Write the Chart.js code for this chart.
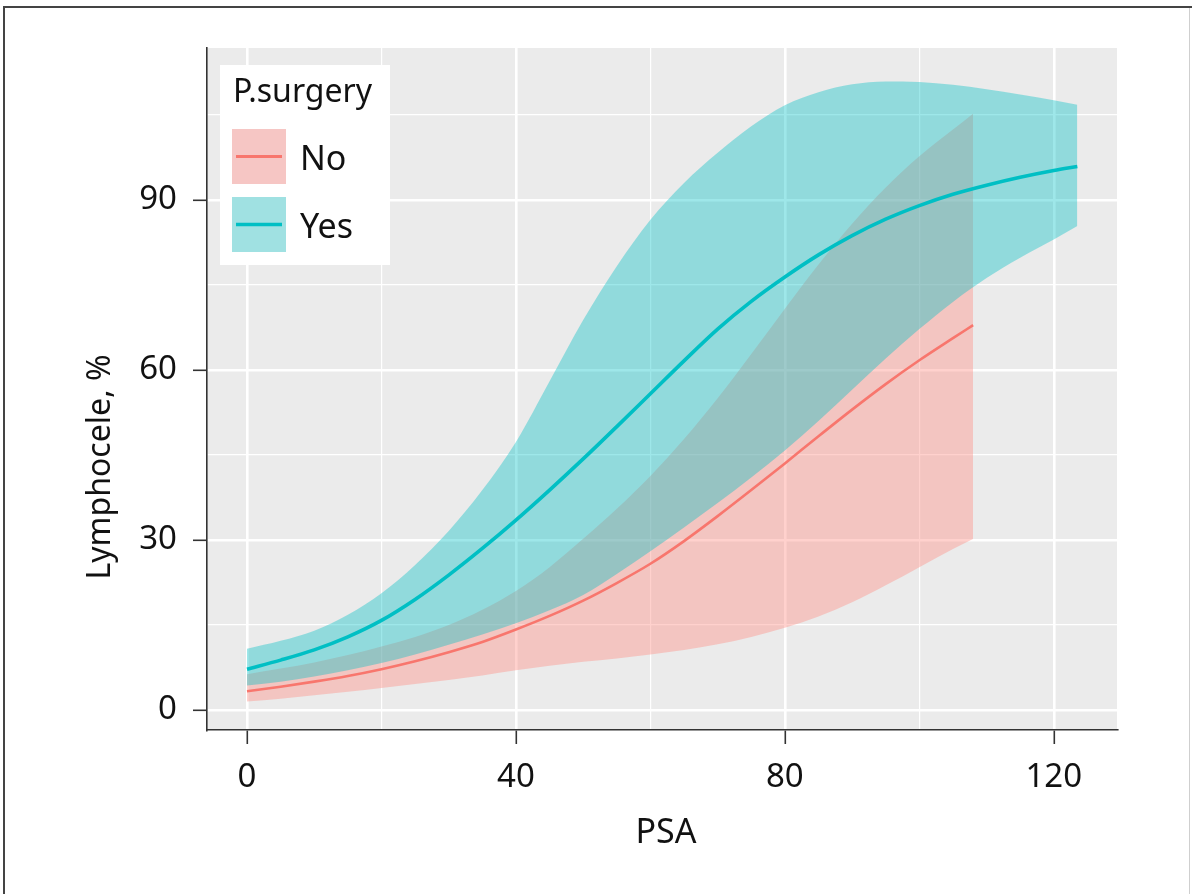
<!DOCTYPE html>
<html>
<head>
<meta charset="utf-8">
<script src="https://cdn.jsdelivr.net/npm/chart.js@4.4.0/dist/chart.umd.min.js"></script>
<style>
html,body{margin:0;padding:0;background:#fff;}
#wrap{position:relative;width:1192px;height:894px;}
</style>
</head>
<body>
<div id="wrap"><canvas id="c" width="1192" height="894"></canvas></div>
<script>
// ---- data ----
const psaNo  = [0,5,10,15,20,25,30,35,40,45,50,55,60,65,70,75,80,85,90,95,100,105,108];
const noFit   = [3.3,4.1,5.0,6.0,7.2,8.6,10.2,12.0,14.2,16.6,19.3,22.4,25.8,29.8,34.2,38.8,43.5,48.3,53.0,57.5,61.7,65.6,67.9];
const noUpper = [6.3,7.3,8.4,9.7,11.2,12.9,15.0,17.7,21.0,25.2,30.2,35.5,41.3,47.8,55.0,62.8,70.8,78.6,85.8,92.2,97.7,102.4,105.2];
const noLower = [1.5,2.0,2.6,3.2,3.9,4.6,5.3,6.1,7.0,7.8,8.5,9.1,9.8,10.6,11.6,12.9,14.5,16.5,19.0,22.0,25.2,28.4,30.2];

const psaYes  = [0,5,10,15,20,25,30,35,40,45,50,55,60,65,70,75,80,85,90,95,100,105,110,115,120,123.5];
const yesFit   = [7.2,8.8,10.6,12.9,15.8,19.5,23.8,28.5,33.5,38.8,44.3,50.0,55.8,61.6,67.2,72.1,76.4,80.3,83.7,86.6,89.0,91.0,92.6,94.0,95.2,95.9];
const yesUpper = [10.8,12.2,14.0,16.8,20.6,25.6,31.6,38.8,47.3,58.0,68.8,78.3,86.5,93.0,98.3,103.0,106.7,109.0,110.4,110.9,110.8,110.3,109.5,108.6,107.6,106.8];
const yesLower = [4.3,5.0,5.9,7.0,8.3,9.8,11.5,13.3,15.3,17.6,20.3,24.0,28.0,32.2,36.5,41.0,45.8,51.0,56.5,62.0,67.2,72.0,76.2,79.8,83.0,85.4];

const xTicksMajor = [0,40,80,120];
const yTicksMajor = [0,30,60,90];
const groups = ['No','Yes'];
const legendTitle = 'P.surgery';
const xTitle = 'PSA';
const yTitle = 'Lymphocele, %';

// ---- helpers ----
const pts = (xs, ys) => xs.map((x,i)=>({x:x, y:ys[i]}));
const RED = '#F8766D', TEAL = '#00BFC4';
const RED_FILL = 'rgba(255,140,130,0.40)', TEAL_FILL = 'rgba(0,191,196,0.38)';
const FONT = "'Noto Sans', 'Open Sans', sans-serif";

const bgPlugin = {
  id:'panelBg',
  beforeDraw(chart){
    const {ctx, chartArea:a} = chart;
    ctx.save();
    ctx.fillStyle = '#EBEBEB';
    ctx.fillRect(a.left, a.top, a.right-a.left, a.bottom-a.top);
    ctx.restore();
  }
};

const decoPlugin = {
  id:'deco',
  afterDraw(chart){
    const {ctx, chartArea:a} = chart;
    ctx.save();
    // axis titles
    ctx.fillStyle = '#111';
    ctx.font = `34px ${FONT}`;
    ctx.textAlign = 'center';
    ctx.textBaseline = 'alphabetic';
    ctx.fillText(xTitle, (a.left+a.right)/2 + 4, 843);
    ctx.save();
    ctx.translate(110, 467);
    ctx.rotate(-Math.PI/2);
    ctx.font = `32px ${FONT}`;
    ctx.fillText(yTitle, 0, 0);
    ctx.restore();

    // legend
    const L = a.left + 13, T = a.top + 17;
    ctx.fillStyle = '#ffffff';
    ctx.fillRect(L, T, 170, 200);
    ctx.fillStyle = '#111';
    ctx.textAlign = 'left';
    ctx.font = `32px ${FONT}`;
    ctx.fillText(legendTitle, L + 13, T + 37);
    const keys = [
      {fill:'#F6C6C4', line:RED, lw:3, y:T+64},
      {fill:'#A0E1E2', line:TEAL, lw:3.5, y:T+132}
    ];
    keys.forEach((k,i)=>{
      ctx.fillStyle = k.fill;
      ctx.fillRect(L+12, k.y, 54, 55);
      ctx.strokeStyle = k.line;
      ctx.lineWidth = k.lw;
      ctx.beginPath();
      ctx.moveTo(L+16, k.y+27.5);
      ctx.lineTo(L+62, k.y+27.5);
      ctx.stroke();
      ctx.fillStyle = '#111';
      ctx.font = `34px ${FONT}`;
      ctx.fillText(groups[i], L+80, k.y+41);
    });

    // outer frame
    ctx.strokeStyle = '#444';
    ctx.lineWidth = 2;
    ctx.beginPath();
    ctx.moveTo(4, 894); ctx.lineTo(4, 7); ctx.lineTo(1192, 7);
    ctx.stroke();
    ctx.strokeStyle = '#cfcfcf';
    ctx.lineWidth = 1;
    ctx.beginPath();
    ctx.moveTo(1189.5, 8); ctx.lineTo(1189.5, 894);
    ctx.stroke();
    ctx.restore();
  }
};

new Chart(document.getElementById('c'), {
  type:'line',
  data:{
    datasets:[
      {label:'noUpper', data:pts(psaNo,noUpper), borderWidth:0, pointRadius:0, fill:'+1', backgroundColor:RED_FILL, borderColor:'rgba(0,0,0,0)', order:10, cubicInterpolationMode:'monotone'},
      {label:'noLower', data:pts(psaNo,noLower), borderWidth:0, pointRadius:0, fill:false, borderColor:'rgba(0,0,0,0)', order:10, cubicInterpolationMode:'monotone'},
      {label:'yesUpper', data:pts(psaYes,yesUpper), borderWidth:0, pointRadius:0, fill:'+1', backgroundColor:TEAL_FILL, borderColor:'rgba(0,0,0,0)', order:8, cubicInterpolationMode:'monotone'},
      {label:'yesLower', data:pts(psaYes,yesLower), borderWidth:0, pointRadius:0, fill:false, borderColor:'rgba(0,0,0,0)', order:8, cubicInterpolationMode:'monotone'},
      {label:'No', data:pts(psaNo,noFit), borderWidth:2.6, pointRadius:0, fill:false, borderColor:RED, order:2, cubicInterpolationMode:'monotone'},
      {label:'Yes', data:pts(psaYes,yesFit), borderWidth:3.6, pointRadius:0, fill:false, borderColor:TEAL, order:1, cubicInterpolationMode:'monotone'}
    ]
  },
  options:{
    responsive:false,
    animation:false,
    devicePixelRatio:1,
    layout:{padding:{left:0, right:75, top:48, bottom:0}},
    plugins:{legend:{display:false}, tooltip:{enabled:false}, title:{display:false}},
    scales:{
      x:{
        type:'linear', min:-5.95, max:129.4,
        afterFit(s){ s.height = 164; },
        border:{display:true, color:'#333', width:1.6},
        grid:{
          color: c => '#ffffff',
          lineWidth: c => (c.tick && xTicksMajor.includes(Math.round(c.tick.value))) ? 2.6 : 1.2,
          tickColor: c => (c.tick && xTicksMajor.includes(Math.round(c.tick.value))) ? '#333' : 'rgba(0,0,0,0)',
          tickLength:14, tickWidth:1.6, drawTicks:true
        },
        ticks:{
          stepSize:20, includeBounds:false, autoSkip:false, maxRotation:0,
          padding:14, color:'#111', font:{family:FONT, size:33},
          callback: v => xTicksMajor.includes(Math.round(v)) ? String(Math.round(v)) : ''
        },
        title:{display:false}
      },
      y:{
        type:'linear', min:-3.53, max:116.8,
        afterFit(s){ s.width = 207; },
        border:{display:true, color:'#333', width:1.6},
        grid:{
          color: c => '#ffffff',
          lineWidth: c => (c.tick && yTicksMajor.includes(Math.round(c.tick.value))) ? 2.6 : 1.2,
          tickColor: c => (c.tick && yTicksMajor.includes(Math.round(c.tick.value))) ? '#333' : 'rgba(0,0,0,0)',
          tickLength:14, tickWidth:1.6, drawTicks:true
        },
        ticks:{
          stepSize:15, includeBounds:false, autoSkip:false,
          padding:16, color:'#111', font:{family:FONT, size:33},
          callback: v => yTicksMajor.includes(Math.round(v)) ? String(Math.round(v)) : ''
        },
        title:{display:false}
      }
    }
  },
  plugins:[bgPlugin, decoPlugin]
});
</script>
</body>
</html>
